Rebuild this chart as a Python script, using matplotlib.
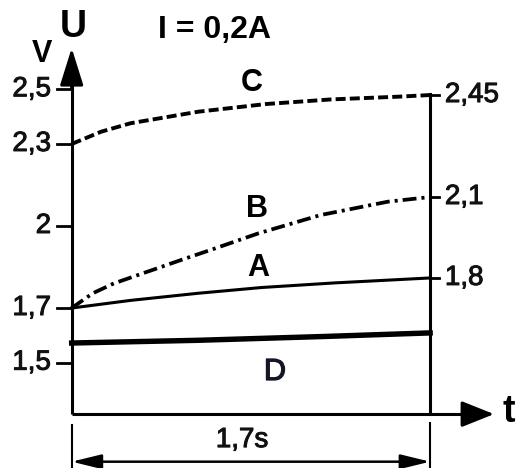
import matplotlib
matplotlib.use("Agg")
import matplotlib.pyplot as plt
import matplotlib.patheffects as pe

plt.rcParams['font.family'] = ['Liberation Sans', 'DejaVu Sans']
plt.rcParams['lines.scale_dashes'] = False

# ---- data ----
t_C = [0.0, 0.14, 0.28, 0.6, 0.92, 1.23, 1.55, 1.7]
u_C = [2.30, 2.345, 2.376, 2.418, 2.446, 2.463, 2.473, 2.479]
t_B = [0.0, 0.1, 0.2, 0.36, 0.52, 0.68, 0.885, 1.18, 1.5, 1.7]
u_B = [1.70, 1.754, 1.79, 1.833, 1.876, 1.918, 1.973, 2.04, 2.089, 2.106]
t_A = [0.0, 0.28, 0.6, 0.9, 1.25, 1.7]
u_A = [1.70, 1.728, 1.754, 1.775, 1.792, 1.81]
t_D = [0.0, 0.6, 1.2, 1.7]
u_D = [1.572, 1.582, 1.596, 1.609]

left_ticks = [2.5, 2.3, 2.0, 1.7, 1.5]
left_labels = ["2,5", "2,3", "2", "1,7", "1,5"]
right_ticks = [u_C[-1], u_B[-1], u_A[-1]]
right_labels = ["2,45", "2,1", "1,8"]
t_end = 1.7

fig = plt.figure(figsize=(5.21, 4.68), dpi=100)
ax = fig.add_axes([0, 0, 1, 1])
ax.set_xlim(-0.340, 2.131)
ax.set_ylim(1.1149, 2.8266)
ax.axis('off')

k = 'black'
thick = [pe.withStroke(linewidth=0.7, foreground='#111111')]
y_bot = 1.312
# axes
ax.plot([0, 0], [y_bot, 2.56], color=k, lw=2.2, solid_capstyle='butt')
ax.annotate('', xy=(0, 2.651), xytext=(0, 2.50),
            arrowprops=dict(arrowstyle='-|>,head_length=1.15,head_width=0.36',
                            color=k, lw=2.2, mutation_scale=20, shrinkA=0, shrinkB=0))
ax.plot([0, 1.9], [y_bot, y_bot], color=k, lw=2.2, solid_capstyle='butt')
ax.annotate('', xy=(2.003, y_bot), xytext=(1.85, y_bot),
            arrowprops=dict(arrowstyle='-|>,head_length=1.0,head_width=0.4',
                            color=k, lw=2.2, mutation_scale=20, shrinkA=0, shrinkB=0))
# right vertical line
ax.plot([t_end, t_end], [y_bot, u_C[-1] + 0.005], color=k, lw=2.2)

# left ticks
for v, lab in zip(left_ticks, left_labels):
    ax.plot([-0.0697, 0], [v, v], color=k, lw=2.0)
    ax.text(-0.098, v, lab, ha='right', va='center', fontsize=20, color='#111111',
            path_effects=thick)
# right ticks
for v, lab in zip(right_ticks, right_labels):
    ax.plot([t_end, 1.742], [v, v], color=k, lw=2.0)
    ax.text(1.77, v, lab, ha='left', va='center', fontsize=20, color='#111111',
            path_effects=thick)

# curves
ax.plot(t_C, u_C, color=k, lw=2.8, dashes=(7.2, 3.0))
ax.plot(t_B, u_B, color=k, lw=2.7, dashes=(10, 3.6, 2.2, 3.6))
ax.plot(t_A, u_A, color=k, lw=2.2)
ax.plot(t_D, u_D, color=k, lw=3.9)

# labels
ax.text(0.0066, 2.728, 'U', ha='center', va='center', fontsize=27, fontweight='bold')
ax.text(-0.141, 2.629, 'V', ha='center', va='center', fontsize=22, fontweight='bold')
ax.text(0.41, 2.717, 'I = 0,2A', ha='left', va='center', fontsize=23, fontweight='bold')
ax.text(0.855, 2.523, 'C', ha='center', va='center', fontsize=22, fontweight='bold')
ax.text(0.879, 2.062, 'B', ha='center', va='center', fontsize=22, fontweight='bold')
ax.text(0.884, 1.846, 'A', ha='center', va='center', fontsize=22, fontweight='bold')
ax.text(0.964, 1.466, 'D', ha='center', va='center', fontsize=22, color='#15152a',
        path_effects=[pe.withStroke(linewidth=0.9, foreground='#15152a')])
ax.text(2.074, 1.318, 't', ha='center', va='center', fontsize=27, fontweight='bold')

# dimension line
ax.plot([0, 0], [1.115, 1.272], color=k, lw=1.5)
ax.plot([t_end, t_end], [1.115, 1.28], color=k, lw=1.5)
ax.annotate('', xy=(0, 1.138), xytext=(t_end, 1.138),
            arrowprops=dict(arrowstyle='<|-|>,head_length=0.9,head_width=0.22',
                            color=k, lw=1.8, mutation_scale=20, shrinkA=0, shrinkB=0))
ax.text(0.808, 1.217, '1,7s', ha='center', va='center', fontsize=20, color='#111111',
        path_effects=thick)

fig.savefig('out.png', dpi=100)
